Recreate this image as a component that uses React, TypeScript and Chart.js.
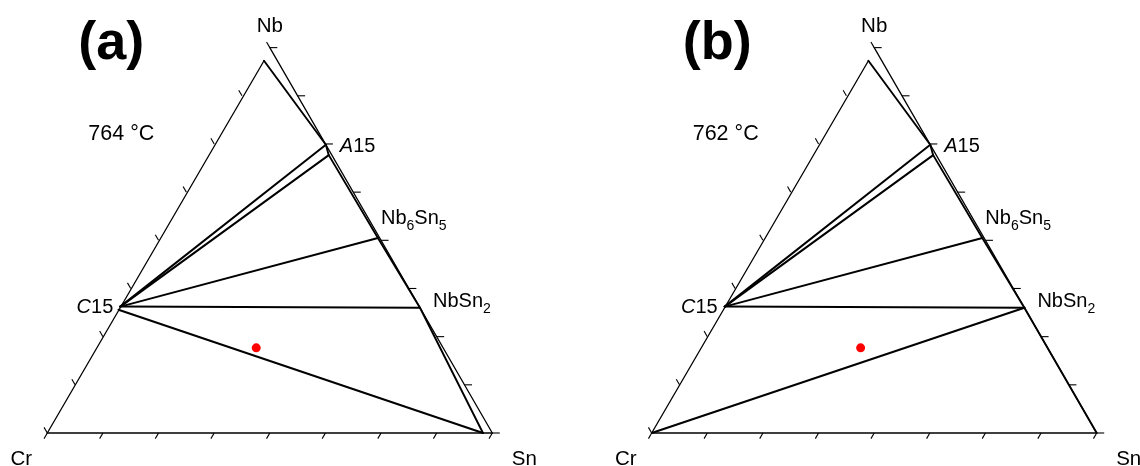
import React, { useEffect, useRef } from "react";
import { Chart, registerables } from "chart.js";

Chart.register(...registerables);

// ---------------- data ----------------
// axis tick positions (mole fraction along each edge)
const AXIS_TICKS = [0, 0.125, 0.25, 0.375, 0.5, 0.625, 0.75, 0.875, 1];
const ELEMENTS = ["Cr", "Sn", "Nb"];
const PANEL_TAGS = ["(a)", "(b)"];
const TEMPERATURES = ["764 °C", "762 °C"];

// compositions written as [x(Nb), x(Sn)]; Cr is the balance
const CR_CORNER = [0, 0];
const SN_CORNER = [0, 1];
const NB_CORNER = [1, 0];
const BCC_LIMIT = [0.966, 0.004];
const A15_NB_RICH = [0.748, 0.252];
const A15_SN_RICH = [0.721, 0.272];
const NB6SN5 = [0.506, 0.49];
const NBSN2 = [0.325, 0.675];
const C15_NB_RICH = [0.328, 0];
const C15_CR_RICH = [0.32, 0];
const LIQUID_SN = [0, 0.979];
const SAMPLE = [0.221, 0.359];

// tie lines of each panel
const TIE_LINES_A = [
  [C15_NB_RICH, A15_NB_RICH],
  [C15_NB_RICH, A15_SN_RICH],
  [C15_NB_RICH, NB6SN5],
  [C15_NB_RICH, NBSN2],
  [C15_CR_RICH, LIQUID_SN],
];
const TIE_LINES_B = [
  [C15_NB_RICH, A15_NB_RICH],
  [C15_NB_RICH, A15_SN_RICH],
  [C15_NB_RICH, NB6SN5],
  [C15_NB_RICH, NBSN2],
  [CR_CORNER, NBSN2],
];
// phase boundary polylines
const BOUNDARY_TOP = [BCC_LIMIT, A15_NB_RICH, A15_SN_RICH, NB6SN5, NBSN2];
const BOUNDARY_END_A = [NBSN2, LIQUID_SN];
const BOUNDARY_END_B = [NBSN2, SN_CORNER];

// ---------------- layout ----------------
const W = 570;
const H = 466;
const UNIT = 445; // pixels per triangle side
const BASE_Y = 433; // pixel row of the Cr-Sn edge
const S3 = Math.sqrt(3) / 2;
const FONT = '"Liberation Sans", Arial, Helvetica, sans-serif';

const PANELS = [
  { tag: 0, temp: 0, crPx: 47.3, ties: TIE_LINES_A, end: BOUNDARY_END_A },
  { tag: 1, temp: 1, crPx: 81.7, ties: TIE_LINES_B, end: BOUNDARY_END_B },
];

const toXY = (c: number[]) => ({ x: c[1] + c[0] / 2, y: c[0] * S3 });

function Panel({ idx }: { idx: number }) {
  const ref = useRef<HTMLCanvasElement | null>(null);

  useEffect(() => {
    const cfg = PANELS[idx];
    const xmin = -cfg.crPx / UNIT;
    const xmax = xmin + W / UNIT;
    const ymax = BASE_Y / UNIT;
    const ymin = ymax - H / UNIT;

    const line = (pts: number[][], width: number) => ({
      type: "line" as const,
      data: pts.map(toXY),
      showLine: true,
      borderColor: "#000",
      backgroundColor: "#000",
      borderWidth: width,
      pointRadius: 0,
      fill: false,
      tension: 0,
      borderCapStyle: "round" as const,
      borderJoinStyle: "round" as const,
      clip: false as any,
    });

    const datasets: any[] = [
      line([CR_CORNER, SN_CORNER], 1.3),
      line([CR_CORNER, BCC_LIMIT], 1.3),
      line([NB_CORNER, SN_CORNER], 1.3),
      line(BOUNDARY_TOP, 1.9),
      line(cfg.end, 1.9),
      ...cfg.ties.map((t) => line(t, 2)),
      {
        type: "scatter",
        data: [toXY(SAMPLE)],
        pointRadius: 4.5,
        pointBackgroundColor: "rgb(255,0,0)",
        pointBorderWidth: 0,
        showLine: false,
        clip: false,
      },
    ];

    const decor = {
      id: "ternaryDecor",
      afterDatasetsDraw(chart: any) {
        const ctx = chart.ctx;
        const xs = chart.scales.x;
        const ys = chart.scales.y;
        const px = (c: number[]) => {
          const p = toXY(c);
          return { x: xs.getPixelForValue(p.x), y: ys.getPixelForValue(p.y) };
        };
        ctx.save();
        ctx.strokeStyle = "#000";
        ctx.lineWidth = 1.1;
        const L = 6.5;
        const tick = (p: any, dx: number, dy: number) => {
          ctx.beginPath();
          ctx.moveTo(p.x, p.y);
          ctx.lineTo(p.x + dx, p.y + dy);
          ctx.stroke();
        };
        AXIS_TICKS.forEach((t) => {
          tick(px([0, t]), -0.5 * L, S3 * L); // Cr-Sn axis
          tick(px([t, 1 - t]), L + 1, 0); // Sn-Nb axis
          tick(px([t, 0]), -0.5 * L, -S3 * L); // Nb-Cr axis
        });

        ctx.fillStyle = "#000";
        ctx.textBaseline = "alphabetic";

        // vertex names
        ctx.font = `20.5px ${FONT}`;
        ctx.textAlign = "center";
        const cr = px(CR_CORNER);
        const sn = px(SN_CORNER);
        const nb = px(NB_CORNER);
        ctx.fillText(ELEMENTS[0], cr.x - 26, 465);
        ctx.fillText(ELEMENTS[1], sn.x + 32, 465);
        ctx.fillText(ELEMENTS[2], nb.x, nb.y - 16);

        // temperature
        ctx.textAlign = "left";
        ctx.font = `21.5px ${FONT}`;
        ctx.fillText(TEMPERATURES[cfg.temp], cr.x + 41, 139.5);

        // panel tag
        ctx.font = `bold 54px ${FONT}`;
        ctx.fillText(PANEL_TAGS[cfg.tag], cr.x + 31, 59);

        // phase labels
        const LBL = 20;
        const a15 = px(A15_NB_RICH);
        ctx.font = `italic ${LBL}px ${FONT}`;
        ctx.fillText("A", a15.x + 14, a15.y + 7);
        const w = ctx.measureText("A").width;
        ctx.font = `${LBL}px ${FONT}`;
        ctx.fillText("15", a15.x + 14 + w, a15.y + 7);

        const c15 = px(C15_NB_RICH);
        ctx.font = `${LBL}px ${FONT}`;
        const w15 = ctx.measureText("15").width;
        ctx.textAlign = "right";
        ctx.fillText("15", c15.x - 7, c15.y + 6);
        ctx.font = `italic ${LBL}px ${FONT}`;
        ctx.fillText("C", c15.x - 7 - w15, c15.y + 6);
        ctx.textAlign = "left";

        const sub = (parts: string[], x: number, y: number) => {
          let cx = x;
          parts.forEach((s, i) => {
            const isSub = i % 2 === 1;
            ctx.font = isSub ? `14px ${FONT}` : `${LBL}px ${FONT}`;
            ctx.fillText(s, cx, isSub ? y + 6 : y);
            cx += ctx.measureText(s).width;
          });
        };
        const n65 = px(NB6SN5);
        sub(["Nb", "6", "Sn", "5"], n65.x + 3, n65.y - 14);
        const n2 = px(NBSN2);
        sub(["NbSn", "2"], n2.x + 13, n2.y - 0.5);

        ctx.restore();
      },
    };

    const chart = new Chart(ref.current as HTMLCanvasElement, {
      type: "scatter",
      data: { datasets },
      options: {
        responsive: false,
        maintainAspectRatio: false,
        animation: false,
        events: [],
        layout: { padding: 0, autoPadding: false } as any,
        plugins: { legend: { display: false }, tooltip: { enabled: false } },
        scales: {
          x: { type: "linear", min: xmin, max: xmax, display: false },
          y: { type: "linear", min: ymin, max: ymax, display: false },
        },
      },
      plugins: [decor],
    });
    return () => chart.destroy();
  }, [idx]);

  return (
    <canvas
      ref={ref}
      width={W}
      height={H}
      style={{ display: "block", width: W, height: H }}
    />
  );
}

export default function App() {
  return (
    <div
      style={{
        position: "absolute",
        left: 0,
        top: 0,
        width: 1140,
        height: 466,
        display: "flex",
        background: "#fff",
      }}
    >
      <Panel idx={0} />
      <Panel idx={1} />
    </div>
  );
}
